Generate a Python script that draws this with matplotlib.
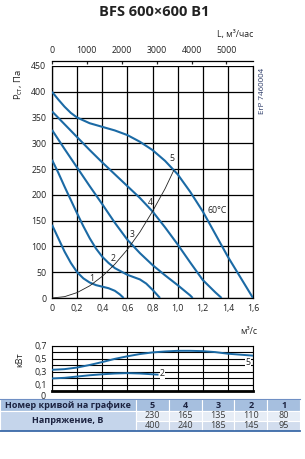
import matplotlib
matplotlib.use("Agg")
import matplotlib.pyplot as plt
from matplotlib.patches import Rectangle
import numpy as np

plt.rcParams['font.family'] = ['Open Sans', 'DejaVu Sans']

# pressure curves, Q in m3/s, P in Pa
q1 = [0, 0.05, 0.1, 0.15, 0.2, 0.25, 0.3, 0.35, 0.4, 0.45, 0.5, 0.54, 0.57]
p1 = [142, 116, 90, 68, 50, 38, 30, 25, 22, 19, 14, 7, 0]
q2 = [0, 0.05, 0.1, 0.15, 0.2, 0.25, 0.3, 0.35, 0.4, 0.45, 0.5, 0.6, 0.7, 0.75, 0.8, 0.86]
p2 = [268, 243, 216, 190, 164, 139, 116, 96, 80, 68, 58, 45, 36, 28, 16, 0]
q3 = [0, 0.1, 0.2, 0.3, 0.4, 0.5, 0.6, 0.7, 0.8, 0.9, 1.0, 1.1, 1.12]
p3 = [326, 289, 253, 217, 182, 146, 113, 87, 64, 44, 25, 5, 0]
q4 = [0, 0.1, 0.2, 0.3, 0.4, 0.5, 0.6, 0.7, 0.8, 0.9, 1.0, 1.1, 1.2, 1.3, 1.35]
p4 = [362, 337, 312, 287, 263, 240, 217, 194, 168, 137, 104, 69, 35, 11, 0]
q5 = [0, 0.05, 0.1, 0.15, 0.2, 0.3, 0.4, 0.5, 0.6, 0.7, 0.8, 0.9, 1.0, 1.1, 1.2, 1.3, 1.4, 1.5, 1.6]
p5 = [400, 385, 371, 359, 350, 339, 332, 325, 316, 303, 287, 266, 240, 206, 168, 124, 80, 40, 0]

# system (network) curve
qs = [0, 0.1, 0.2, 0.3, 0.4, 0.5, 0.6, 0.7, 0.8, 0.9, 0.97]
ps = [0, 2.6, 10.5, 23.6, 42, 65.5, 94, 128, 168, 212, 248]

# power curves, kW
qw5 = [0, 0.1, 0.2, 0.3, 0.4, 0.5, 0.6, 0.7, 0.8, 0.9, 1.0, 1.1, 1.2, 1.3, 1.4, 1.5, 1.6]
pw5 = [0.33, 0.34, 0.365, 0.405, 0.45, 0.50, 0.54, 0.575, 0.60, 0.615, 0.625, 0.625, 0.62, 0.605, 0.58, 0.565, 0.55]
qw2 = [0, 0.1, 0.2, 0.3, 0.4, 0.5, 0.6, 0.7, 0.84]
pw2 = [0.195, 0.205, 0.225, 0.245, 0.26, 0.272, 0.278, 0.272, 0.255]

curve_ids = ["5", "4", "3", "2", "1"]
volt_a = ["230", "165", "135", "110", "80"]
volt_b = ["400", "240", "185", "145", "95"]

BLUE = "#1b6aa5"
W, H = 305, 459
fig = plt.figure(figsize=(W / 100, H / 100), dpi=100)

fig.text(154 / W, 1 - 12 / H, "BFS 600×600 B1", ha="center", va="center",
         fontsize=10.5, fontweight="bold", color="#222222")

# main chart
ax = fig.add_axes([52 / W, 161 / H, 201 / W, 232 / H])
ax.set_xlim(0, 1.6)
ax.set_ylim(0, 450)
ax.set_xticks(np.arange(0, 1.61, 0.2))
ax.set_xticklabels(["0", "0,2", "0,4", "0,6", "0,8", "1,0", "1,2", "1,4", "1,6"])
ax.set_yticks(np.arange(0, 451, 50))
ax.grid(True, color="black", lw=0.9)
ax.tick_params(length=0, labelsize=6.3, pad=4, colors="#222222")
for s in ax.spines.values():
    s.set_linewidth(0.9)
ax.spines["top"].set_visible(False)

for q, p in [(q1, p1), (q2, p2), (q3, p3), (q4, p4), (q5, p5)]:
    ax.plot(q, p, color=BLUE, lw=1.5, solid_capstyle="butt", zorder=3)
ax.plot(qs, ps, color="#222222", lw=0.6, zorder=4)

for lab, x, y in [("1", 0.315, 38), ("2", 0.483, 76), ("3", 0.64, 123),
                  ("4", 0.783, 185), ("5", 0.953, 270)]:
    ax.text(x, y, lab, fontsize=6.3, ha="center", va="center", zorder=5,
            color="#222222")
ax.text(1.24, 169, "60°C", fontsize=6.3, ha="left", va="center", zorder=5,
        color="#222222")

# top axis in m3/h
axt = ax.twiny()
axt.set_xlim(0, 1.6 * 3600)
axt.set_xticks([0, 1000, 2000, 3000, 4000, 5000])
axt.spines["top"].set_position(("outward", 3.6))
for k in ["left", "right", "bottom"]:
    axt.spines[k].set_visible(False)
axt.spines["top"].set_linewidth(0.9)
axt.tick_params(direction="in", length=2.5, width=0.9, labelsize=6.3, pad=4,
                colors="#222222")

fig.text(253 / W, 1 - 35 / H, "L, м³/час", ha="right", va="center",
         fontsize=6.3, color="#222222")
fig.text(19 / W, 1 - 85 / H, r"P$_\mathregular{ст}$, Па", rotation=90,
         ha="center", va="center", fontsize=6.8, color="#222222")
fig.text(263 / W, 1 - 91 / H, "ErP 7460004", rotation=90, ha="center",
         va="center", fontsize=5.8, color="#2b3a67")
fig.text(257 / W, 1 - 331 / H, "м³/с", ha="right", va="center",
         fontsize=6.3, color="#222222")

# power chart
ax2 = fig.add_axes([52 / W, 68 / H, 201 / W, 45 / H])
ax2.set_xlim(0, 1.6)
ax2.set_ylim(0, 0.7)
ax2.set_xticks(np.arange(0, 1.61, 0.2))
ax2.set_xticklabels([])
ax2.set_yticks(np.arange(0, 0.71, 0.1))
ax2.set_yticklabels(["", "0,1", "", "0,3", "", "0,5", "", "0,7"])
ax2.grid(True, color="black", lw=0.8)
ax2.tick_params(length=0, labelsize=6.3, pad=4, colors="#222222")
for s in ax2.spines.values():
    s.set_linewidth(0.8)
ax2.spines["bottom"].set_linewidth(2.0)
ax2.text(-0.032, -0.01, "0", transform=ax2.get_yaxis_transform(),
         ha="right", va="top", fontsize=6.3, color="#222222")
ax2.plot(qw5, pw5, color=BLUE, lw=1.4, zorder=3)
ax2.plot(qw2, pw2, color=BLUE, lw=1.4, zorder=3)
ax2.text(0.88, 0.265, "2", fontsize=6.3, ha="center", va="center", zorder=5,
         color="#222222", bbox=dict(fc="white", ec="none", pad=0.3))
ax2.text(1.56, 0.44, "5", fontsize=6.3, ha="center", va="center", zorder=5,
         color="#222222", bbox=dict(fc="white", ec="none", pad=0.3))
fig.text(20 / W, 1 - 360 / H, "кВт", rotation=90, ha="center", va="center",
         fontsize=6.5, color="#222222")

# table
tab = fig.add_axes([0, 28 / H, 300 / W, 32 / H])
tab.set_xlim(0, 300)
tab.set_ylim(32, 0)
tab.axis("off")
cw = (300 - 136) / 5
tab.add_patch(Rectangle((0, 0), 136, 11.7, fc="#a6bfdf", ec="white", lw=0.8))
tab.add_patch(Rectangle((0, 11.7), 136, 20.3, fc="#c5d5eb", ec="white", lw=0.8))
for i in range(5):
    x0 = 136 + i * cw
    tab.add_patch(Rectangle((x0, 0), cw, 11.7, fc="#a6bfdf", ec="white", lw=0.8))
    tab.add_patch(Rectangle((x0, 11.7), cw, 10, fc="#e6edf6", ec="white", lw=0.8))
    tab.add_patch(Rectangle((x0, 21.7), cw, 10.3, fc="#d2ddee", ec="white", lw=0.8))
    tab.text(x0 + cw / 2, 6, curve_ids[i], ha="center", va="center",
             fontsize=6.5, fontweight="bold", color="#1c2340")
    tab.text(x0 + cw / 2, 16.7, volt_a[i], ha="center", va="center",
             fontsize=6.5, color="#3a3a3a")
    tab.text(x0 + cw / 2, 27, volt_b[i], ha="center", va="center",
             fontsize=6.5, color="#3a3a3a")
tab.text(68, 6, "Номер кривой на графике", ha="center", va="center",
         fontsize=6.5, fontweight="bold", color="#1c2340")
tab.text(68, 21.8, "Напряжение, В", ha="center", va="center",
         fontsize=6.5, fontweight="bold", color="#1c2340")
tab.plot([0, 300], [0, 0], color="#6f8fc4", lw=0.8, clip_on=False)
tab.plot([0, 300], [32, 32], color="#3b6aa8", lw=1.3, clip_on=False)

fig.savefig("out.png", dpi=100)
